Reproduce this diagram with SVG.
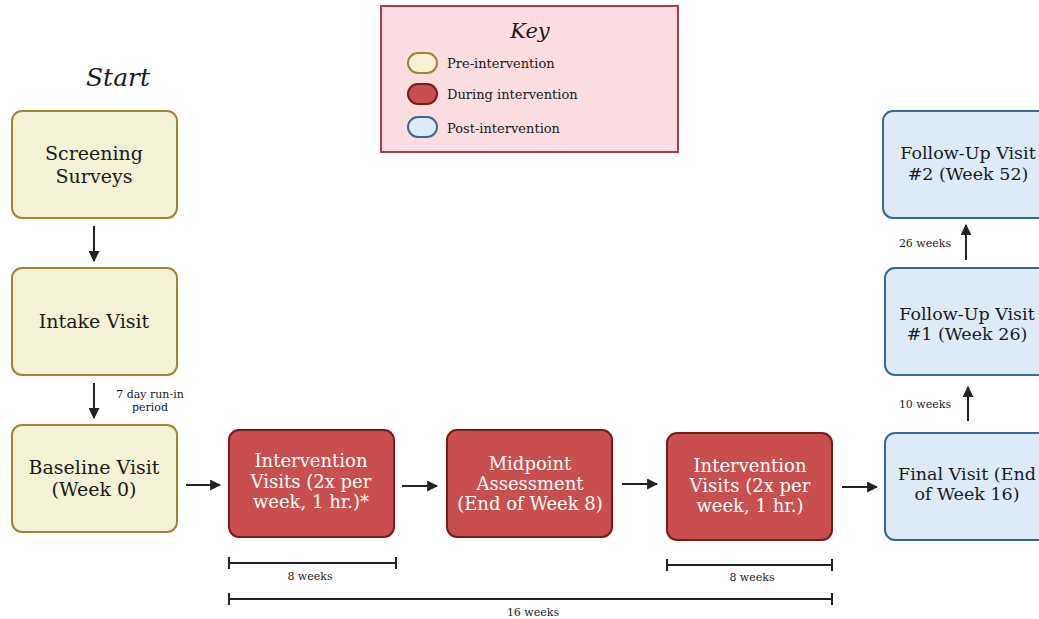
<svg xmlns="http://www.w3.org/2000/svg" width="1039" height="619" viewBox="0 0 1039 619">
<style>
text{font-family:"DejaVu Serif","Liberation Serif",serif;fill:#1a1a1a}
.pre{fill:#f4f2d6;stroke:#a08532;stroke-width:2}
.dur{fill:#c94f4f;stroke:#761c1c;stroke-width:2}
.post{fill:#ddeaf8;stroke:#3a6896;stroke-width:2}
.nt{font-size:19px;text-anchor:middle}
.rt{font-size:17.5px;text-anchor:middle}
.wt{font-size:18px;text-anchor:middle;fill:#fff}
.sm{font-size:11px;text-anchor:middle}
.lg{font-size:13px}
.ln{stroke:#222;stroke-width:2;fill:none}
</style>
<defs>
<marker id="ah" viewBox="0 0 10 10" refX="9" refY="5" markerWidth="5.5" markerHeight="5.5" orient="auto"><path d="M0,0L10,5L0,10z" fill="#222"/></marker>
</defs>
<text x="118" y="86" font-size="25" font-style="italic" text-anchor="middle">Start</text>
<g id="key">
<rect x="381" y="6" width="297" height="146" fill="#f9dde0" stroke="#b23a48" stroke-width="2"/>
<text x="530" y="38" font-size="21" font-style="italic" text-anchor="middle">Key</text>
<rect x="408" y="53" width="29" height="20" rx="10" class="pre"/>
<rect x="408" y="84" width="29" height="20" rx="10" class="dur"/>
<rect x="408" y="117" width="29" height="20" rx="10" class="post"/>
<text x="447" y="68" class="lg">Pre-intervention</text>
<text x="447" y="99" class="lg">During intervention</text>
<text x="447" y="133" class="lg">Post-intervention</text>
</g>
<g id="screening"><rect x="12" y="111" width="165" height="107" rx="10" class="pre"/>
<text class="nt"><tspan x="94" y="160">Screening</tspan><tspan x="94" y="183">Surveys</tspan></text></g>
<g id="intake"><rect x="12" y="268" width="165" height="107" rx="10" class="pre"/>
<text class="nt" x="94" y="328">Intake Visit</text></g>
<g id="baseline"><rect x="12" y="425" width="165" height="107" rx="10" class="pre"/>
<text class="nt"><tspan x="94" y="474">Baseline Visit</tspan><tspan x="94" y="496">(Week 0)</tspan></text></g>
<g id="iv1"><rect x="229" y="430" width="165" height="107" rx="10" class="dur"/>
<text class="wt"><tspan x="311" y="467">Intervention</tspan><tspan x="311" y="488">Visits (2x per</tspan><tspan x="311" y="508">week, 1 hr.)*</tspan></text></g>
<g id="midpoint"><rect x="447" y="430" width="165" height="107" rx="10" class="dur"/>
<text class="wt"><tspan x="530" y="470">Midpoint</tspan><tspan x="530" y="490">Assessment</tspan><tspan x="530" y="510">(End of Week 8)</tspan></text></g>
<g id="iv2"><rect x="667" y="433" width="165" height="107" rx="10" class="dur"/>
<text class="wt"><tspan x="750" y="472">Intervention</tspan><tspan x="750" y="492">Visits (2x per</tspan><tspan x="750" y="512">week, 1 hr.)</tspan></text></g>
<g id="final"><rect x="885" y="433" width="170" height="107" rx="10" class="post"/>
<text class="rt"><tspan x="967" y="480">Final Visit (End</tspan><tspan x="967" y="500">of Week 16)</tspan></text></g>
<g id="fu1"><rect x="885" y="268" width="170" height="107" rx="10" class="post"/>
<text class="rt"><tspan x="967" y="320">Follow-Up Visit</tspan><tspan x="967" y="340">#1 (Week 26)</tspan></text></g>
<g id="fu2"><rect x="883" y="111" width="172" height="107" rx="10" class="post"/>
<text class="rt"><tspan x="968" y="159">Follow-Up Visit</tspan><tspan x="968" y="180">#2 (Week 52)</tspan></text></g>
<g id="connectors">
<line x1="94" y1="226" x2="94" y2="261" class="ln" marker-end="url(#ah)"/>
<line x1="94" y1="383" x2="94" y2="418" class="ln" marker-end="url(#ah)"/>
<line x1="186" y1="485" x2="220" y2="485" class="ln" marker-end="url(#ah)"/>
<line x1="402" y1="486" x2="437" y2="486" class="ln" marker-end="url(#ah)"/>
<line x1="622" y1="484" x2="657" y2="484" class="ln" marker-end="url(#ah)"/>
<line x1="842" y1="487" x2="877" y2="487" class="ln" marker-end="url(#ah)"/>
<line x1="968" y1="421" x2="968" y2="387" class="ln" marker-end="url(#ah)"/>
<line x1="966" y1="260" x2="966" y2="225" class="ln" marker-end="url(#ah)"/>
<text class="sm"><tspan x="150" y="398">7 day run-in</tspan><tspan x="150" y="411">period</tspan></text>
<text class="sm" x="925" y="247">26 weeks</text>
<text class="sm" x="925" y="408">10 weeks</text>
<path d="M229,563H396M229,557V569M396,557V569" class="ln"/>
<text class="sm" x="310" y="580">8 weeks</text>
<path d="M667,565H832M667,559V571M832,559V571" class="ln"/>
<text class="sm" x="752" y="581">8 weeks</text>
<path d="M229,599H832M229,593V605M832,593V605" class="ln"/>
<text class="sm" x="533" y="616">16 weeks</text>
</g>
</svg>
